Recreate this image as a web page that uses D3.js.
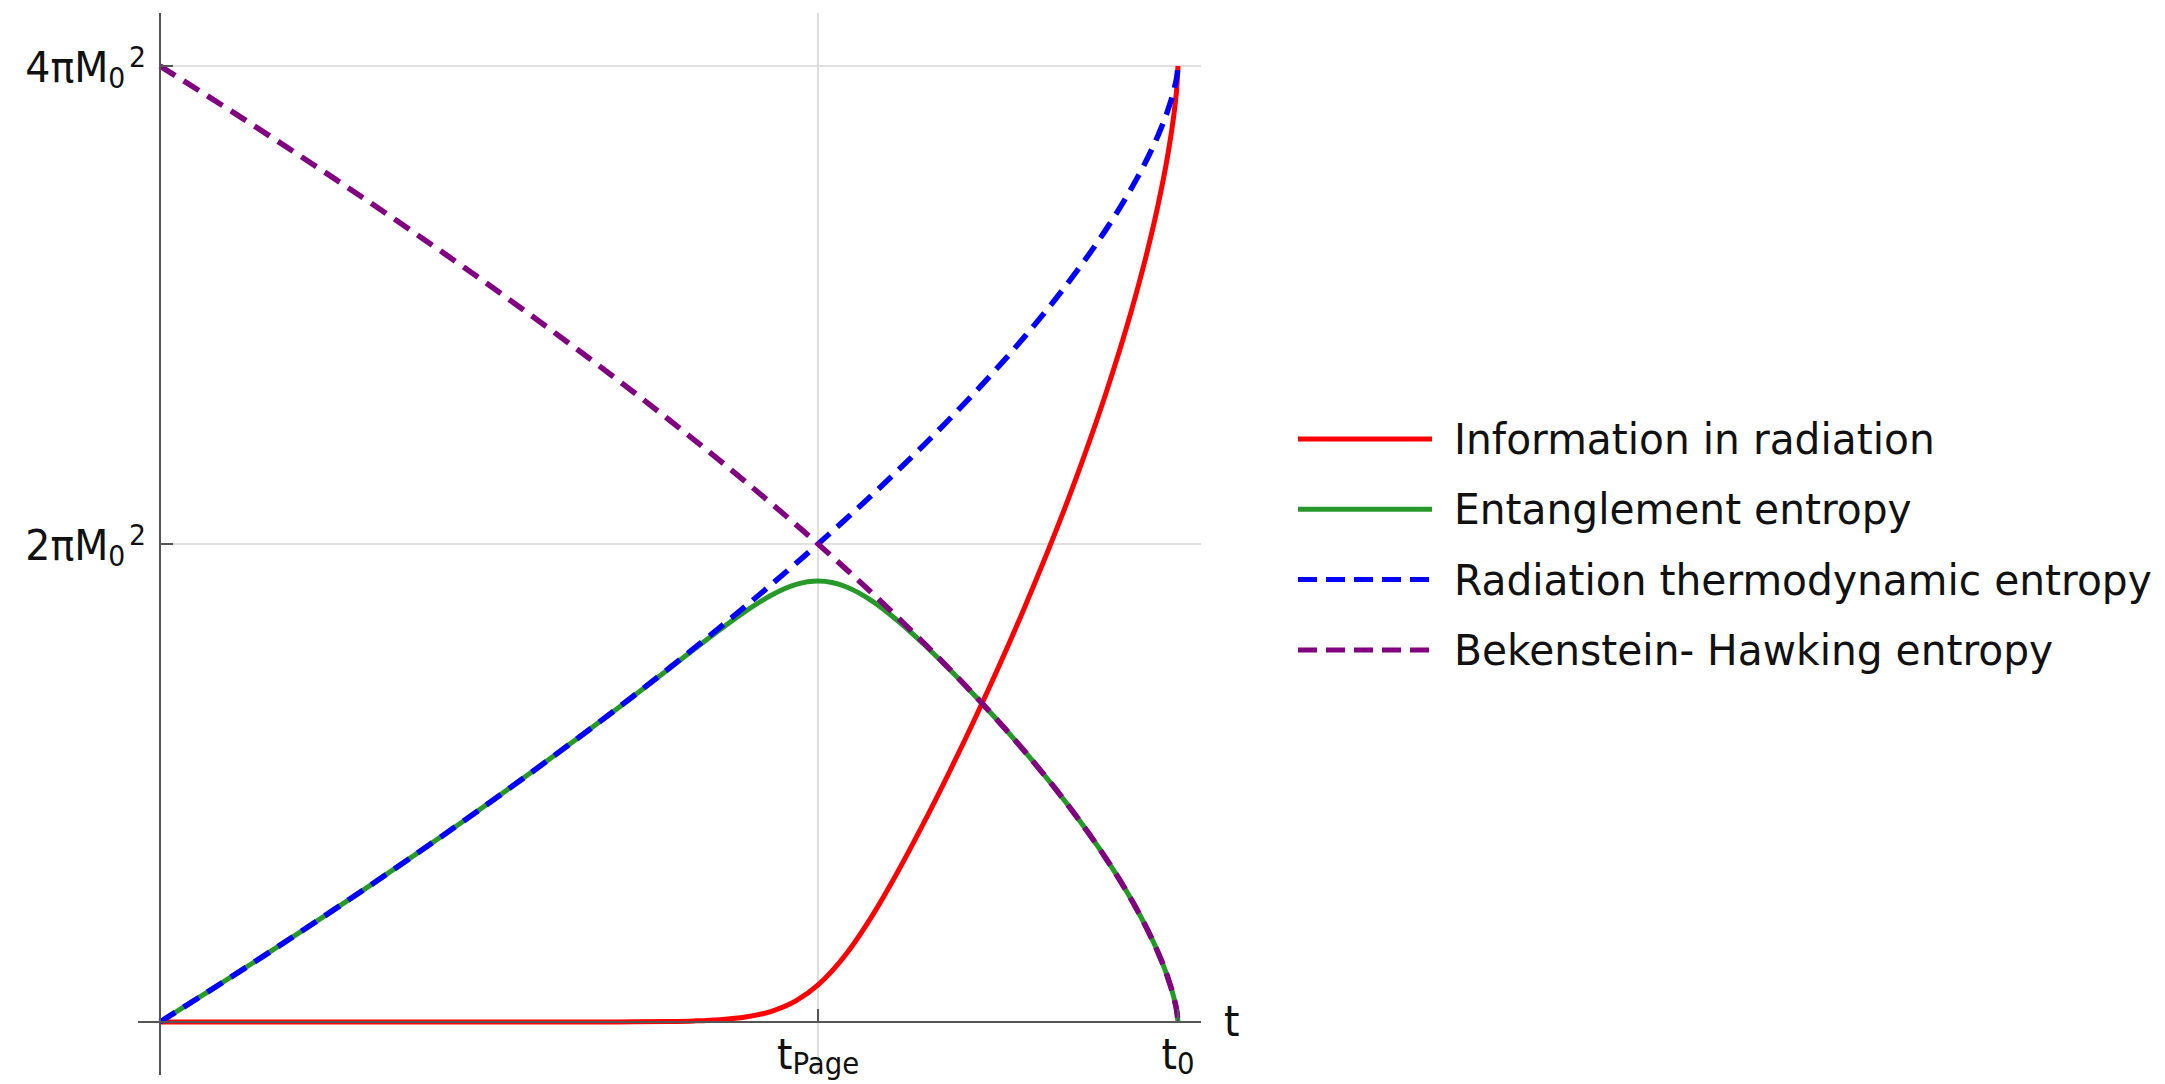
<!DOCTYPE html>
<html>
<head>
<meta charset="utf-8">
<script src="https://cdn.jsdelivr.net/npm/d3@7"></script>
<style>
  html, body { margin: 0; padding: 0; background: #fff; }
  svg { display: block; }
  text { font-family: "DejaVu Sans", sans-serif; fill: #111; }
</style>
</head>
<body>
<svg id="chart" width="2165" height="1084"></svg>
<script>
// time in units of t0, entropy in units of pi*M0^2
const tValues = [0, 0.05, 0.1, 0.15, 0.2, 0.25, 0.3, 0.35, 0.4, 0.45, 0.5, 0.525, 0.55, 0.575,
  0.6, 0.625, 0.6464, 0.675, 0.7, 0.725, 0.75, 0.775, 0.8, 0.85, 0.9, 0.93, 0.95, 0.96, 0.97,
  0.98, 0.99, 0.995, 0.997, 0.999, 1];

const informationInRadiation = [0, 0, 0, 0, 0, 0, 0, 0, 0.0001, 0.0005, 0.0022, 0.0046, 0.0097, 0.0208,
  0.0439, 0.0892, 0.1553, 0.2901, 0.4474, 0.6308, 0.8308, 1.0427, 1.2648, 1.7417, 2.2764, 2.6412, 2.9142,
  3.0644, 3.2276, 3.4106, 3.6286, 3.7660, 3.8336, 3.92, 4];

const entanglementEntropy = [0, 0.1345, 0.2713, 0.4108, 0.5529, 0.6981, 0.8465, 0.9986, 1.1544, 1.3143,
  1.4780, 1.5604, 1.6414, 1.7182, 1.7846, 1.8307, 1.8447, 1.8191, 1.7600, 1.6777, 1.5818, 1.4776, 1.3672,
  1.1291, 0.8618, 0.6794, 0.5429, 0.4678, 0.3862, 0.2947, 0.1857, 0.1170, 0.0832, 0.04, 0];

const radiationThermoEntropy = [0, 0.1345, 0.2713, 0.4108, 0.5529, 0.6981, 0.8465, 0.9986, 1.1545, 1.3148,
  1.4802, 1.5650, 1.6511, 1.7390, 1.8285, 1.9199, 2.0, 2.1092, 2.2074, 2.3085, 2.4126, 2.5203, 2.6320,
  2.8708, 3.1382, 3.3206, 3.4571, 3.5322, 3.6138, 3.7053, 3.8143, 3.8830, 3.9168, 3.96, 4];

const bekensteinHawkingEntropy = [4, 3.8655, 3.7287, 3.5892, 3.4471, 3.3019, 3.1535, 3.0014, 2.8455, 2.6852,
  2.5198, 2.4350, 2.3489, 2.2610, 2.1715, 2.0801, 2.0, 1.8908, 1.7926, 1.6915, 1.5874, 1.4797, 1.3680,
  1.1292, 0.8618, 0.6794, 0.5429, 0.4678, 0.3862, 0.2947, 0.1857, 0.1170, 0.0832, 0.04, 0];

const xTicks = [{ v: 0.6464, main: "t", sub: "Page" }, { v: 1, main: "t", sub: "0" }];
const yTicks = [{ v: 2, main: "2πM", sub: "0", sup: "2" }, { v: 4, main: "4πM", sub: "0", sup: "2" }];

const series = [
  { name: "Entanglement entropy", values: entanglementEntropy, color: "#27992a", dash: null },
  { name: "Information in radiation", values: informationInRadiation, color: "#ff0000", dash: null },
  { name: "Radiation thermodynamic entropy", values: radiationThermoEntropy, color: "#0000ff", dash: "18,10" },
  { name: "Bekenstein- Hawking entropy", values: bekensteinHawkingEntropy, color: "#800080", dash: "18,10" }
];
const legendOrder = ["Information in radiation", "Entanglement entropy",
  "Radiation thermodynamic entropy", "Bekenstein- Hawking entropy"];

const svg = d3.select("#chart");
const x = d3.scaleLinear().domain([0, 1]).range([160, 1178]);
const y = d3.scaleLinear().domain([0, 4]).range([1022, 66]);
const plotTop = 13, plotBottom = 1075, plotRight = 1201, axisLeft = 138;
const squish = 0.92;

// grid
const grid = svg.append("g").attr("stroke", "#d6d6d6").attr("stroke-width", 1.6);
yTicks.forEach(t => grid.append("line")
  .attr("x1", x(0)).attr("x2", plotRight).attr("y1", y(t.v)).attr("y2", y(t.v)));
grid.append("line").attr("x1", x(xTicks[0].v)).attr("x2", x(xTicks[0].v))
  .attr("y1", plotTop).attr("y2", plotBottom);

// curves
const line = d3.line()
  .x((d, i) => x(tValues[i]))
  .y(d => y(d))
  .curve(d3.curveMonotoneX);

series.forEach(s => {
  svg.append("path")
    .attr("d", line(s.values))
    .attr("fill", "none")
    .attr("stroke", s.color)
    .attr("stroke-width", s.dash ? 5.5 : 5)
    .attr("stroke-dasharray", s.dash)
    .attr("stroke-linejoin", "round");
});

// axes
const axes = svg.append("g").attr("stroke", "#555").attr("stroke-width", 2);
axes.append("line").attr("x1", x(0)).attr("x2", x(0)).attr("y1", plotTop).attr("y2", plotBottom);
axes.append("line").attr("x1", axisLeft).attr("x2", plotRight).attr("y1", y(0)).attr("y2", y(0));
yTicks.forEach(t => axes.append("line")
  .attr("x1", x(0)).attr("x2", x(0) + 13).attr("y1", y(t.v)).attr("y2", y(t.v)));
xTicks.forEach(t => axes.append("line")
  .attr("x1", x(t.v)).attr("x2", x(t.v)).attr("y1", y(0)).attr("y2", y(0) - 13));

// y tick labels
yTicks.forEach(t => {
  const txt = svg.append("text")
    .attr("transform", `translate(146,${y(t.v) + 16}) scale(${squish},1)`)
    .attr("text-anchor", "end")
    .attr("font-size", 43);
  txt.append("tspan").text(t.main);
  txt.append("tspan").attr("font-size", 29).attr("dy", 6).text(t.sub);
  txt.append("tspan").attr("font-size", 29).attr("dx", 4).attr("dy", -21).text(t.sup);
});

// x tick labels
xTicks.forEach(t => {
  const txt = svg.append("text")
    .attr("transform", `translate(${x(t.v)},1069) scale(${squish},1)`)
    .attr("text-anchor", "middle")
    .attr("font-size", 43);
  txt.append("tspan").text(t.main);
  txt.append("tspan").attr("font-size", 30).attr("dy", 5).text(t.sub);
});

// axis name
svg.append("text")
  .attr("transform", `translate(1224,1036) scale(${squish},1)`)
  .attr("font-size", 43)
  .text("t");

// legend
const legend = svg.append("g");
legendOrder.forEach((name, i) => {
  const s = series.find(d => d.name === name);
  const cy = 439 + i * 70.3;
  legend.append("line")
    .attr("x1", 1298).attr("x2", 1432).attr("y1", cy).attr("y2", cy)
    .attr("stroke", s.color).attr("stroke-width", 5)
    .attr("stroke-dasharray", s.dash ? "19,9" : null);
  legend.append("text")
    .attr("transform", `translate(1454,${cy + 15}) scale(0.948,1)`)
    .attr("font-size", 43)
    .text(name);
});
</script>
</body>
</html>
